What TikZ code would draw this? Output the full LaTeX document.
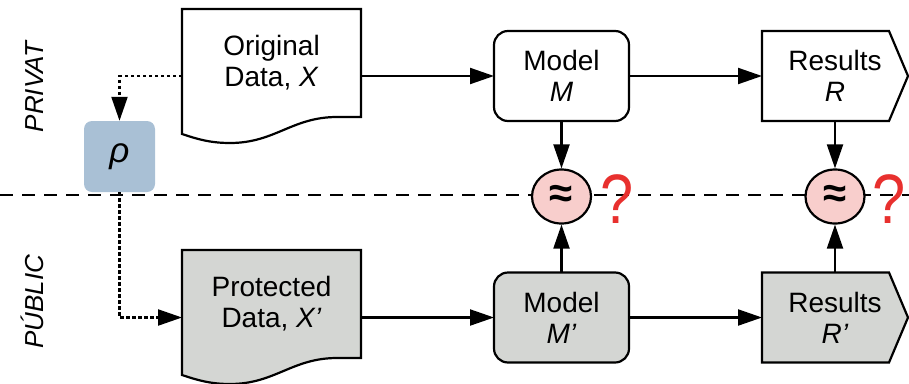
\documentclass[tikz,border=0pt]{standalone}
\usepackage{fontspec}
\setmainfont{Liberation Sans}
\usetikzlibrary{arrows.meta,shapes.geometric}

\definecolor{protgray}{HTML}{D4D6D3}
\definecolor{rhoblue}{HTML}{A9C0D5}
\definecolor{cmppink}{HTML}{F8CECC}
\definecolor{qred}{HTML}{E8302E}

\pgfdeclarelayer{outline}
\pgfsetlayers{outline,main}

% Document outline (flat top, wavy bottom) around a named node
\newcommand{\docshape}[2]{%
  \draw[#1] (#2.north west) -- (#2.north east) -- (#2.south east) -- ++(-24,0)
    .. controls +(-45,0) and +(45,0) .. ([xshift=48pt,yshift=-26pt]#2.south west)
    .. controls +(-20,0) and +(15,5) .. ([yshift=-17pt]#2.south west) -- cycle;}

% Pentagon "results" outline around a named node
\newcommand{\resshape}[2]{%
  \draw[#1] (#2.north west) -- ([xshift=-19pt]#2.north east) -- (#2.east)
    -- ([xshift=-19pt]#2.south east) -- (#2.south west) -- cycle;}

\begin{document}
\begin{tikzpicture}[x=1pt,y=-1pt,
  txt/.style={font=\fontsize{28}{31}\selectfont, align=center},
  shapebox/.style={txt, inner sep=0pt, outer sep=0pt},
  border/.style={line width=2.2pt, line join=miter},
  modelbox/.style={shapebox, draw, border, rounded corners=14pt,
                   minimum width=135pt, minimum height=90pt},
  cmp/.style={ellipse, draw, line width=2.2pt, fill=cmppink, inner sep=0pt,
              minimum width=59pt, minimum height=54pt,
              font=\fontsize{42}{42}\bfseries\selectfont},
  qmark/.style={inner sep=0pt, text=qred, xscale=0.85,
                font=\fontsize{70}{70}\selectfont},
  zone/.style={rotate=90, anchor=base, inner sep=0pt,
               font=\fontsize{26}{26}\itshape\selectfont},
  tip/.style={-{Triangle[length=24pt,width=16pt]}},
  arr/.style={line width=2.1pt, tip},
  dotarr/.style={line width=2.2pt, dash pattern=on 3.5pt off 2.5pt, tip}]

\useasboundingbox (0,0) rectangle (909,383);

% boundary between private and public
\coordinate (bl) at (0,195);
\coordinate (br) at (909,195);
\draw[line width=2.1pt, dash pattern=on 13pt off 9pt] (bl) -- (br);

% zone labels
\node[zone] (privat) at (43.5,87) {PRIVAT};
\node[zone] (public) at (43.5,301.5) {PÚBLIC};

% data documents
\node[shapebox, minimum width=179pt, minimum height=108pt] (data) at (271.5,63)
  {Original\\Data, \textit{X}};
\node[shapebox, minimum width=179pt, minimum height=108pt] (prot) at (271.5,304)
  {Protected\\Data, \textit{X’}};

% models
\node[modelbox] (model) at (561.5,76) {Model\\\textit{M}};
\node[modelbox, fill=protgray] (modelp) at (561.5,317.5) {Model\\\textit{M’}};

% results
\node[shapebox, minimum width=146pt, minimum height=90pt] (res) at (835,76)
  {Results\\\textit{R}};
\node[shapebox, minimum width=146pt, minimum height=90pt] (resp) at (835,317.5)
  {Results\\\textit{R’}};

\begin{pgfonlayer}{outline}
  \docshape{border}{data}
  \docshape{border, fill=protgray}{prot}
  \resshape{border}{res}
  \resshape{border, fill=protgray}{resp}
\end{pgfonlayer}

% protection mechanism
\node[fill=rhoblue, rounded corners=8pt, minimum width=71pt, minimum height=71pt,
      inner sep=0pt, font=\fontsize{35}{35}\itshape\selectfont] (rho) at (119.5,156.5)
  {\raisebox{-5pt}{ρ}};

% comparisons
\node[cmp] (c1) at (561.5,196.5) {≈};
\node[cmp] (c2) at (835,196.5) {≈};
\node[qmark, anchor=base west] (q1) at ([xshift=8pt,yshift=-26.5pt]c1.east) {?};
\node[qmark, anchor=base west] (q2) at ([xshift=7pt,yshift=-26.5pt]c2.east) {?};

% flows
\draw[arr] (data.east |- model.west) -- (model.west);
\draw[arr] (model.east) -- (res.west);
\draw[arr] (prot.east |- modelp.west) -- (modelp.west);
\draw[arr] (modelp.east) -- (resp.west);
\draw[arr] (model.south) -- (c1.north);
\draw[arr] (modelp.north) -- (c1.south);
\draw[arr] (res.south) -- (c2.north);
\draw[arr] (resp.north) -- (c2.south);

\draw[dotarr] (data.west |- model.west) -| (rho.north);
\draw[dotarr] (rho.south) |- (prot.west |- modelp.west);

\end{tikzpicture}
\end{document}
